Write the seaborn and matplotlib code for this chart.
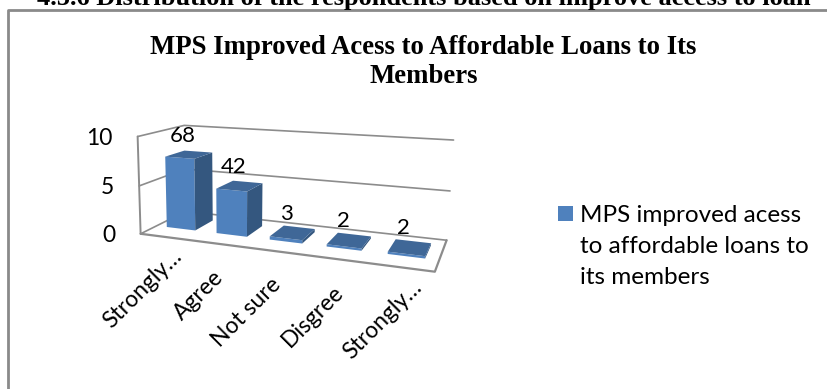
import numpy as np
import pandas as pd
import matplotlib
matplotlib.use("Agg")
import matplotlib.pyplot as plt
from matplotlib.lines import Line2D
from matplotlib.patches import Polygon, Rectangle
from matplotlib.transforms import IdentityTransform, Transform
import seaborn as sns

categories = ["Strongly agree", "Agree", "Not sure", "Disgree", "Strongly disagree"]
tick_labels = ["Strongly…", "Agree", "Not sure", "Disgree", "Strongly…"]
responses = [68, 42, 3, 2, 2]
axis_ticks = [0, 45, 90]
axis_labels = ["0", "5", "10"]

page_title = "4.5.6 Distribution of the respondents based on improve access to loan"
chart_title = "MPS Improved Acess to Affordable Loans to Its\nMembers"
series_name = "MPS improved acess\nto affordable loans to\nits members"

W, H = 827, 389
BLUE, SIDE, TOP = "#4F81BD", "#34577F", "#3F6797"
GRID = "#8C8C8C"
BAR_WIDTH = 0.58
BAR_FRONT, BAR_BACK = 0.33, 0.76
AXIS_TOP = axis_ticks[-1]

sns.set_theme(style="white")
plt.rcParams["font.family"] = ["Lato", "DejaVu Sans"]

# Camera for the box: (category, value, depth) to image pixels, from the box corners.
box_world = np.array([(-.5, 0, 0), (4.5, 0, 0), (-.5, AXIS_TOP, 0), (-.5, 0, 1),
                      (4.5, 0, 1), (-.5, AXIS_TOP, 1), (4.5, AXIS_TOP, 1)], float)
box_image = np.array([(143, 233), (435, 272), (135, 137), (183, 212),
                      (447, 240), (187, 125), (453, 140)], float)
rows = []
for (x, y, z), (u, v) in zip(box_world, box_image):
    rows.append([x, y, z, 1, 0, 0, 0, 0, -u * x, -u * y, -u * z, -u])
    rows.append([0, 0, 0, 0, x, y, z, 1, -v * x, -v * y, -v * z, -v])
camera = np.linalg.svd(np.array(rows))[2][-1].reshape(3, 4)


def project(x, y, z):
    q = camera @ np.array([x, y, z, 1.0])
    return np.array([q[0] / q[2], q[1] / q[2]])


def to_display(p):
    return (p[0], H - p[1])


class DepthPlane(Transform):
    """Maps (category, value) on a plane of constant depth to display pixels."""
    input_dims = output_dims = 2

    def __init__(self, plane_depth):
        super().__init__()
        self.plane_depth = plane_depth

    def transform_non_affine(self, values):
        return np.array([to_display(project(x, y, self.plane_depth)) for x, y in values])


fig = plt.figure(figsize=(W / 100, H / 100), dpi=100)
ax = fig.add_axes([0, 0, 1, 1])
frame = pd.DataFrame({"category": categories, "responses": responses})
sns.barplot(data=frame, x="category", y="responses", color=BLUE, saturation=1,
            width=BAR_WIDTH, linewidth=0, edgecolor="none", ax=ax, legend=False)
ax.set_axis_off()


def line(points, lw=1.2, color=GRID, zorder=1):
    xs, ys = zip(*[to_display(p) for p in points])
    ax.add_line(Line2D(xs, ys, transform=IdentityTransform(), lw=lw, color=color,
                       zorder=zorder, solid_capstyle="round", clip_on=False))


def face(points, color, zorder):
    ax.add_patch(Polygon([to_display(p) for p in points], closed=True, facecolor=color,
                         edgecolor="none", transform=IdentityTransform(),
                         clip_on=False, zorder=zorder))


bars = list(ax.patches)

# Walls and floor of the box
for tick in axis_ticks:
    line([project(-.5, tick, 0), project(-.5, tick, 1), project(4.5, tick, 1)])
line([project(-.5, 0, 0), project(-.5, AXIS_TOP, 0)], lw=1.4)
line([project(-.5, 0, 0), project(4.5, 0, 0), project(4.5, 0, 1)], lw=1.6)

# Bars, front faces from seaborn and the depth faces built on top of them
for order, bar in enumerate(bars):
    x0, x1 = bar.get_x(), bar.get_x() + bar.get_width()
    v = bar.get_height()
    bar.set_transform(DepthPlane(BAR_FRONT))
    bar.set_clip_on(False)
    bar.set_zorder(4 + order)
    face([project(x1, 0, BAR_FRONT), project(x1, 0, BAR_BACK),
          project(x1, v, BAR_BACK), project(x1, v, BAR_FRONT)], SIDE, 4 + order)
    face([project(x0, v, BAR_FRONT), project(x1, v, BAR_FRONT),
          project(x1, v, BAR_BACK), project(x0, v, BAR_BACK)], TOP, 4 + order)

# Value labels above each bar
for i, v in enumerate(responses):
    px, py = project(i, v, (BAR_FRONT + BAR_BACK) / 2)
    fig.text((px - 6) / W, 1 - (py - 19) / H, str(v), fontsize=16, color="black",
             ha="center", va="center", zorder=20)

# Value axis labels
for tick, label in zip(axis_ticks, axis_labels):
    px, py = project(-.5, tick, 0)
    fig.text((px - 25) / W, 1 - (py + 2) / H, label, fontsize=16.5, color="black",
             ha="right", va="center")

# Category labels, rotated; the truncated ones sit a little higher under the edge
for i, label in enumerate(tick_labels):
    px, py = project(i, 0, 0)
    truncated = label.endswith("…")
    nudge_x, nudge_y = (-3, -8) if truncated else (-15, 6)
    fig.text((px + 8 + 1.5 * i + nudge_x) / W, 1 - (py + 17 + nudge_y) / H, label,
             fontsize=16.5, color="black", rotation=45, rotation_mode="anchor",
             ha="right", va="top")

# Chart border and headings
line([(8, H), (8, 9.5), (W, 9.5)], lw=2, color="#8A8A8A", zorder=2)
fig.text(423.5 / W, 1 - 5 / H, page_title, family="Liberation Serif", weight="bold",
         fontsize=19, ha="center", va="baseline", color="black")
fig.text(423.5 / W, 1 - 62 / H, chart_title, family="Liberation Serif", weight="bold",
         fontsize=19.3, ha="center", va="center", color="black", linespacing=1.16)

# Legend key and its wrapped label
ax.add_patch(Rectangle((558, H - 221), 15, 15, facecolor=BLUE, edgecolor="none",
                       transform=IdentityTransform(), clip_on=False))
fig.text(580 / W, 1 - 205 / H, series_name, fontsize=17.5, color="black",
         ha="left", va="top", linespacing=1.6)

fig.savefig("out.png", dpi=100)
